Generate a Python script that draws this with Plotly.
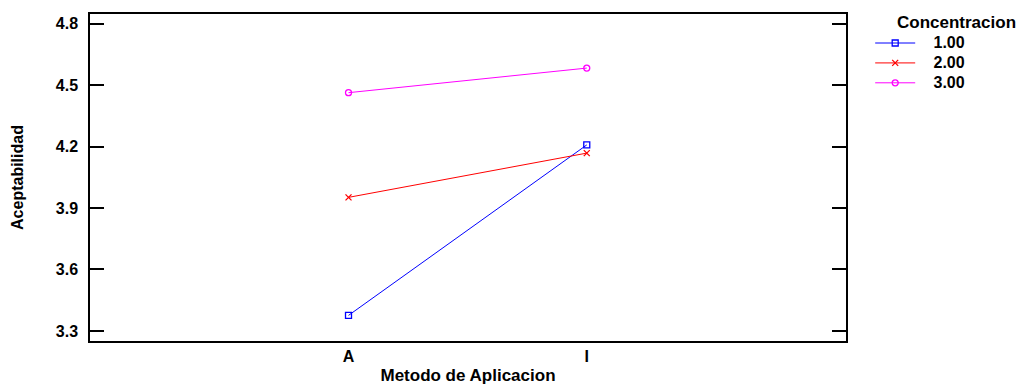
import plotly.graph_objects as go

categories = ["A", "I"]
series_names = ["1.00", "2.00", "3.00"]
conc_1 = [3.376, 4.208]
conc_2 = [3.952, 4.168]
conc_3 = [4.463, 4.583]
y_ticks = [3.3, 3.6, 3.9, 4.2, 4.5, 4.8]

colors = ["#0000ff", "#ff0000", "#ff00ff"]
symbols = ["square-open", "x-thin-open", "circle-open"]
values = [conc_1, conc_2, conc_3]

fig = go.Figure()
for name, vals, c, s in zip(series_names, values, colors, symbols):
    fig.add_trace(go.Scatter(
        x=categories, y=vals, mode="lines+markers",
        name="<span style='font-size:16px'>\u00a0\u00a0\u00a0" + name + "</span>",
        line=dict(color=c, width=1),
        marker=dict(symbol=s, size=6, color=c, line=dict(color=c, width=1.3)),
    ))

font_family = "Liberation Sans, Arial, sans-serif"
fig.update_layout(
    template="none",
    width=1017, height=385,
    margin=dict(l=90, r=171, t=14, b=44, pad=0),
    paper_bgcolor="white", plot_bgcolor="white",
    font=dict(family=font_family, size=16, color="black"),
    showlegend=True,
    legend=dict(x=1.032, y=0.957, xanchor="left", yanchor="top",
                font=dict(family=font_family, size=13, color="black", weight="bold"),
                itemwidth=40, tracegroupgap=0, bgcolor="rgba(0,0,0,0)"),
    xaxis=dict(type="category", range=[-1.085, 2.088], showgrid=False,
               showline=True, linecolor="black", linewidth=1.5, mirror=True,
               ticks="", tickfont=dict(size=16, weight="bold"), ticklabelstandoff=0,
               title=dict(text="<b>Metodo de Aplicacion</b>", font=dict(size=17), standoff=20),
               zeroline=False, automargin=False),
    yaxis=dict(range=[3.251, 4.847], tickvals=y_ticks,
               ticktext=[f"{v:.1f}" for v in y_ticks], showgrid=False,
               showline=True, linecolor="black", linewidth=1.5, mirror="allticks",
               ticks="inside", ticklen=14, tickwidth=1.5, tickcolor="black",
               tickfont=dict(size=16, weight="bold"), ticklabelstandoff=7,
               title=dict(text="<b>Aceptabilidad</b>", font=dict(size=16), standoff=28),
               zeroline=False, automargin=False),
    annotations=[dict(text="<b>Concentracion</b>", xref="paper", yref="paper",
                      x=1.065, y=0.9755, xanchor="left", yanchor="middle",
                      showarrow=False, font=dict(size=17, color="black"))],
)

fig.write_html("out.html", config={"displayModeBar": False},
               post_script="document.body.style.margin='0';document.body.style.overflow='hidden';")
